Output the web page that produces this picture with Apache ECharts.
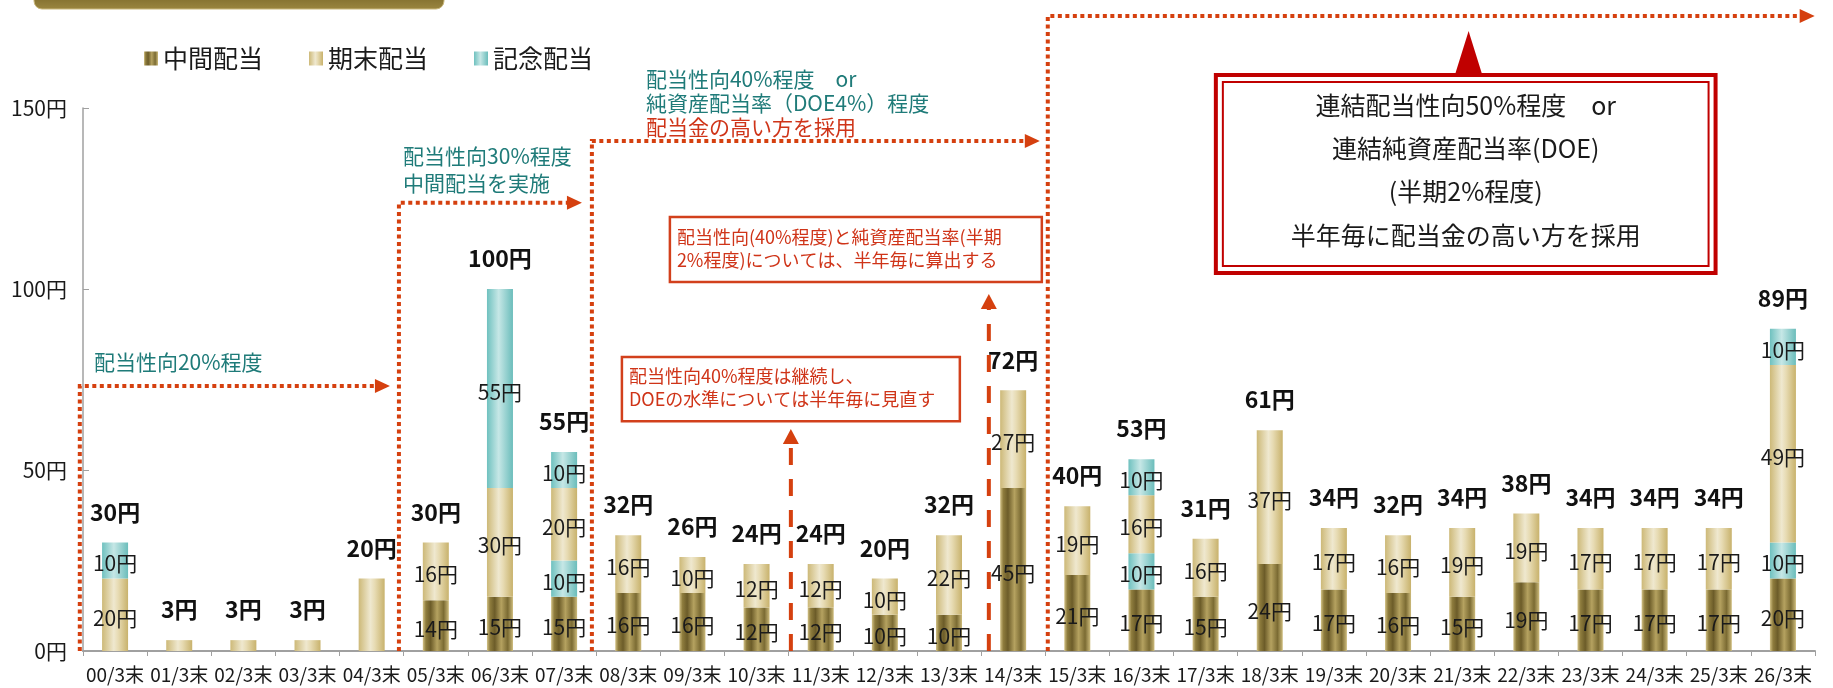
<!DOCTYPE html>
<html><head><meta charset="utf-8">
<script src="https://cdn.jsdelivr.net/npm/echarts@6/dist/echarts.min.js"></script>
<style>html,body{margin:0;padding:0;background:#fff}#c{width:1833px;height:688px}</style>
</head><body><div id="c"></div>
<script>
// ---- data ----
const categories = ['00/3末','01/3末','02/3末','03/3末','04/3末','05/3末','06/3末','07/3末','08/3末','09/3末','10/3末','11/3末','12/3末','13/3末','14/3末','15/3末','16/3末','17/3末','18/3末','19/3末','20/3末','21/3末','22/3末','23/3末','24/3末','25/3末','26/3末'];
const interim              = [0,0,0,0,0,14,15,15,16,16,12,12,10,10,45,21,17,15,24,17,16,15,19,17,17,17,20];
const interimCommemorative = [0,0,0,0,0,0,0,10,0,0,0,0,0,0,0,0,10,0,0,0,0,0,0,0,0,0,10];
const yearEnd              = [20,3,3,3,20,16,30,20,16,10,12,12,10,22,27,19,16,16,37,17,16,19,19,17,17,17,49];
const yearEndCommemorative = [10,0,0,0,0,0,55,10,0,0,0,0,0,0,0,0,10,0,0,0,0,0,0,0,0,0,10];
const noInnerLabel = ['01/3末','02/3末','03/3末','04/3末'];
const legendNames = ['中間配当','期末配当','記念配当'];
const yMin = 0, yMax = 150, yStep = 50;

// annotations (category-index units, yen units)
const policySteps = [ // vertical line x, level, arrow tip x
  [-0.55, 73.2, 4.285],
  [4.425, 123.8, 7.278],
  [7.433, 140.9, 14.416],
  [14.54, 175.4, 26.495]
];
const upArrows = [[10.535, 61.3], [13.621, 98.6]];

const FONT = '"Noto Sans CJK JP", "Noto Sans", sans-serif';
const TEAL = '#1f7b79', RED = '#cf3418', DOT = '#d5400f', BOX = '#d2401c', DEEP = '#c00000';

const G = echarts.graphic;
const gInterim = new G.LinearGradient(0,0,1,0,[
  {offset:0,color:'#d3c286'},{offset:0.12,color:'#8e7c3d'},{offset:0.3,color:'#6c5c29'},
  {offset:0.55,color:'#b5a260'},{offset:0.8,color:'#7b6b33'},{offset:1,color:'#cdbb7b'}]);
const gYearEnd = new G.LinearGradient(0,0,1,0,[
  {offset:0,color:'#cdb978'},{offset:0.45,color:'#efe8cf'},{offset:0.62,color:'#e7dbb3'},{offset:1,color:'#c8b26c'}]);
const gComm = new G.LinearGradient(0,0,1,0,[
  {offset:0,color:'#6fc1bf'},{offset:0.45,color:'#c6e7e6'},{offset:1,color:'#6bbdbb'}]);

const totals = categories.map((c,i)=>interim[i]+interimCommemorative[i]+yearEnd[i]+yearEndCommemorative[i]);

function barSeries(name, arr, color){
  return {
    name, type:'bar', stack:'div', barWidth:26, itemStyle:{color},
    data: arr.map(v => v>0 ? v : '-'),
    label:{show:true, position:'inside', offset:[0,3], fontSize:21, color:'#1a1a1a', fontFamily:FONT,
      formatter: p => (p.value>0 && noInnerLabel.indexOf(p.name)<0) ? p.value+'円' : ''}
  };
}

const chart = echarts.init(document.getElementById('c'));
chart.setOption({
  animation:false,
  textStyle:{fontFamily:FONT},
  grid:{left:83, right:18, top:108, bottom:37, containLabel:false},
  legend:{data:legendNames, left:139, top:41, icon:'rect', itemWidth:14, itemHeight:14, itemGap:46,
    textStyle:{fontSize:25, color:'#1a1a1a', fontFamily:FONT}},
  xAxis:{type:'category', data:categories,
    axisLine:{lineStyle:{color:'#a0a0a0', width:2}},
    axisTick:{show:true, length:5, lineStyle:{color:'#a0a0a0'}},
    axisLabel:{interval:0, fontSize:19, color:'#1a1a1a', margin:14, fontFamily:FONT}},
  yAxis:{type:'value', min:yMin, max:yMax, interval:yStep,
    axisLine:{show:true, lineStyle:{color:'#a0a0a0', width:1.5}},
    axisTick:{show:true, inside:true, length:6, lineStyle:{color:'#a0a0a0'}},
    splitLine:{show:false},
    axisLabel:{formatter:'{value}円', fontSize:21, color:'#1a1a1a', margin:16, fontFamily:FONT}},
  series:[
    barSeries('中間配当', interim, gInterim),
    barSeries('記念配当', interimCommemorative, gComm),
    barSeries('期末配当', yearEnd, gYearEnd),
    barSeries('記念配当', yearEndCommemorative, gComm),
    {name:'合計', type:'line', data:totals, symbol:'circle', symbolSize:2,
      itemStyle:{color:'rgba(0,0,0,0)'}, lineStyle:{opacity:0}, silent:true, z:5,
      label:{show:true, position:'top', distance:18, fontSize:23, fontWeight:'bold', color:'#111', fontFamily:FONT,
        formatter:'{c}円'}}
  ]
});

// ---- annotations placed through the axes ----
const x0 = chart.convertToPixel({xAxisIndex:0}, categories[0]);
const x1 = chart.convertToPixel({xAxisIndex:0}, categories[1]);
const step = x1 - x0;
const px = v => x0 + v*step;
const yA = chart.convertToPixel({yAxisIndex:0}, yMin);
const yB = chart.convertToPixel({yAxisIndex:0}, yMax);
const py = val => yA + (yB - yA) * (val - yMin) / (yMax - yMin);

const els = [];
// title bar remnant at top
els.push({type:'rect', shape:{x:34, y:-12, width:410, height:21, r:8},
  style:{fill:new G.LinearGradient(0,0,0,1,[{offset:0,color:'#6f5d22'},{offset:1,color:'#9b8640'}]), stroke:'#c9b77c', lineWidth:1}, z:1});

function text(t, x, y, o){
  els.push({type:'text', z:20, style:Object.assign({text:t, x, y, fill:TEAL, fontSize:21, fontFamily:FONT,
    align:'left', verticalAlign:'middle'}, o||{})});
}

policySteps.forEach(([vx, lvl, tip])=>{
  const X = px(vx), Y = py(lvl), T = px(tip);
  els.push({type:'polyline', z:15, shape:{points:[[X, py(0)], [X, Y], [T-13, Y]]},
    style:{stroke:DOT, lineWidth:4, lineDash:[4,3.5], fill:null}});
  els.push({type:'polygon', z:15, shape:{points:[[T-15, Y-7],[T, Y],[T-15, Y+7]]}, style:{fill:DOT}});
});
upArrows.forEach(([vx, lvl])=>{
  const X = px(vx), Y = py(lvl);
  els.push({type:'line', z:15, shape:{x1:X, y1:py(0), x2:X, y2:Y+14},
    style:{stroke:DOT, lineWidth:4, lineDash:[17,14]}});
  els.push({type:'polygon', z:15, shape:{points:[[X-8, Y+15],[X, Y],[X+8, Y+15]]}, style:{fill:DOT}});
});

// teal policy texts
text('配当性向20%程度', px(-0.33), py(79.8));
text('配当性向30%程度', px(4.49), py(136.7));
text('中間配当を実施', px(4.49), py(129.3));
text('配当性向40%程度　or', px(8.275), py(158.0));
text('純資産配当率（DOE4%）程度', px(8.275), py(151.4));
text('配当金の高い方を採用', px(8.275), py(144.8), {fill:RED});

// red boxes
function box(v1, t1, v2, t2){
  els.push({type:'rect', z:12, shape:{x:px(v1), y:py(t1), width:px(v2)-px(v1), height:py(t2)-py(t1)},
    style:{fill:'#fff', stroke:BOX, lineWidth:2.5}});
}
box(8.649, 119.9, 14.447, 101.9);
text('配当性向(40%程度)と純資産配当率(半期', px(8.758), py(114.4), {fill:RED, fontSize:18});
text('2%程度)については、半年毎に算出する', px(8.758), py(108.0), {fill:RED, fontSize:18});
box(7.901, 81.2, 13.169, 63.5);
text('配当性向40%程度は継続し、', px(8.01), py(75.9), {fill:RED, fontSize:18});
text('DOEの水準については半年毎に見直す', px(8.01), py(69.6), {fill:RED, fontSize:18});

// big double-bordered box
(function(){
  const L = px(17.16), R = px(24.95), T = py(159.1), B = py(104.4);
  els.push({type:'rect', z:12, shape:{x:L, y:T, width:R-L, height:B-T}, style:{fill:'#fff', stroke:DEEP, lineWidth:4}});
  els.push({type:'rect', z:12, shape:{x:L+7, y:T+7, width:R-L-14, height:B-T-14}, style:{fill:'none', stroke:DEEP, lineWidth:2}});
  const C = px(21.1);
  els.push({type:'polygon', z:13, shape:{points:[[C-14, T+1],[C, py(171.3)],[C+14, T+1]]}, style:{fill:DEEP}});
  const lines = ['連結配当性向50%程度　or','連結純資産配当率(DOE)','(半期2%程度)','半年毎に配当金の高い方を採用'];
  const vals = [150.8, 138.95, 126.8, 114.9];
  const cx = (L+R)/2;
  lines.forEach((t,i)=>text(t, cx, py(vals[i]), {fill:'#1a1a1a', fontSize:25, align:'center'}));
})();

chart.setOption({graphic:{elements:els}});
</script></body></html>
